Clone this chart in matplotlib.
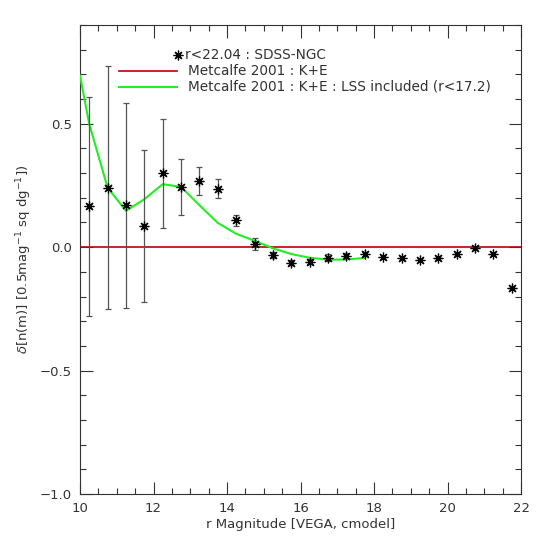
import matplotlib.pyplot as plt
import numpy as np
from matplotlib.ticker import MultipleLocator

# Data
mag = [10.25, 10.75, 11.25, 11.75, 12.25, 12.75, 13.25, 13.75, 14.25, 14.75, 15.25, 15.75,
       16.25, 16.75, 17.25, 17.75, 18.25, 18.75, 19.25, 19.75, 20.25, 20.75, 21.25, 21.75]
delta = [0.166, 0.241, 0.170, 0.086, 0.299, 0.244, 0.268, 0.237, 0.109, 0.013, -0.031, -0.063,
         -0.059, -0.043, -0.034, -0.028, -0.038, -0.046, -0.051, -0.046, -0.026, -0.005, -0.026, -0.164]
delta_err = [0.443, 0.493, 0.415, 0.309, 0.222, 0.113, 0.058, 0.037, 0.023, 0.026, 0.013, 0.010,
             0.010, 0.015, 0.010, 0.008, 0.0, 0.0, 0.0, 0.0, 0.0, 0.0, 0.0, 0.0]

lss_mag = [10.0, 10.25, 10.75, 11.25, 11.75, 12.25, 12.75, 13.25, 13.75, 14.25, 14.75,
           15.25, 15.75, 16.25, 16.75, 17.25, 17.75]
lss_delta = [0.695, 0.50, 0.241, 0.147, 0.194, 0.255, 0.244, 0.170, 0.098, 0.054, 0.026,
             -0.005, -0.028, -0.043, -0.051, -0.050, -0.044]

labels = ['r<22.04 : SDSS-NGC', 'Metcalfe 2001 : K+E', 'Metcalfe 2001 : K+E : LSS included (r<17.2)']

fg = '#333333'
red = '#c00000'
green = '#22ee22'
plt.rcParams['font.family'] = 'DejaVu Sans'
plt.rcParams['font.size'] = 9.5

fig = plt.figure(figsize=(5.45, 5.45), dpi=100)
ax = fig.add_axes([0.1468, 0.0936, 0.8092, 0.8606])

ast = (8, 2, 0)
ax.axhline(0.0, color=red, lw=1.2, zorder=2)
ax.plot(lss_mag, lss_delta, color=green, lw=1.5, zorder=3)
ax.errorbar(mag, delta, yerr=delta_err, fmt='none', ecolor='#555555', elinewidth=0.9,
            capsize=2.2, capthick=0.9, zorder=4)
ax.plot(mag, delta, ls='none', marker=ast, ms=7, mec='black', mew=0.9, zorder=5)
ax.plot(mag, delta, ls='none', marker='o', ms=1.8, mfc='black', mec='black', zorder=6)

ax.set_xlim(10, 22)
ax.set_ylim(-1.0, 0.9)
ax.xaxis.set_major_locator(MultipleLocator(2))
ax.xaxis.set_minor_locator(MultipleLocator(0.5))
ax.yaxis.set_major_locator(MultipleLocator(0.5))
ax.yaxis.set_minor_locator(MultipleLocator(0.1))
ax.yaxis.set_major_formatter(plt.FuncFormatter(lambda v, p: f'{v:.1f}'.replace('-', '\u2212')))
ax.tick_params(which='both', direction='in', top=True, right=True, colors=fg, labelcolor=fg)
ax.tick_params(which='major', length=9, width=0.8, pad=6)
ax.tick_params(which='minor', length=4.5, width=0.8)
for s in ax.spines.values():
    s.set_color(fg)
    s.set_linewidth(0.8)

ax.set_xlabel('r Magnitude [VEGA, cmodel]', color=fg, labelpad=2)
ax.set_ylabel(r'$\delta$[n(m)] [0.5mag$^{-1}$ sq dg$^{-1}$])', color=fg, labelpad=4)

# legend drawn by hand, IDL style
tr = ax.transAxes
rows = [0.936, 0.902, 0.868]
ax.plot([0.222], [rows[0]], transform=tr, ls='none', marker=ast, ms=7, mec='black', mew=0.9)
ax.plot([0.222], [rows[0]], transform=tr, ls='none', marker='o', ms=1.8, mfc='black', mec='black')
ax.text(0.238, rows[0], labels[0], transform=tr, va='center', ha='left', color=fg, fontsize=9.8)
ax.plot([0.088, 0.22], [rows[1], rows[1]], transform=tr, color=red, lw=1.2)
ax.text(0.245, rows[1], labels[1], transform=tr, va='center', ha='left', color=fg, fontsize=9.8)
ax.plot([0.088, 0.22], [rows[2], rows[2]], transform=tr, color=green, lw=1.5)
ax.text(0.245, rows[2], labels[2], transform=tr, va='center', ha='left', color=fg, fontsize=9.8)

fig.savefig('out.png', dpi=100, facecolor='white')
